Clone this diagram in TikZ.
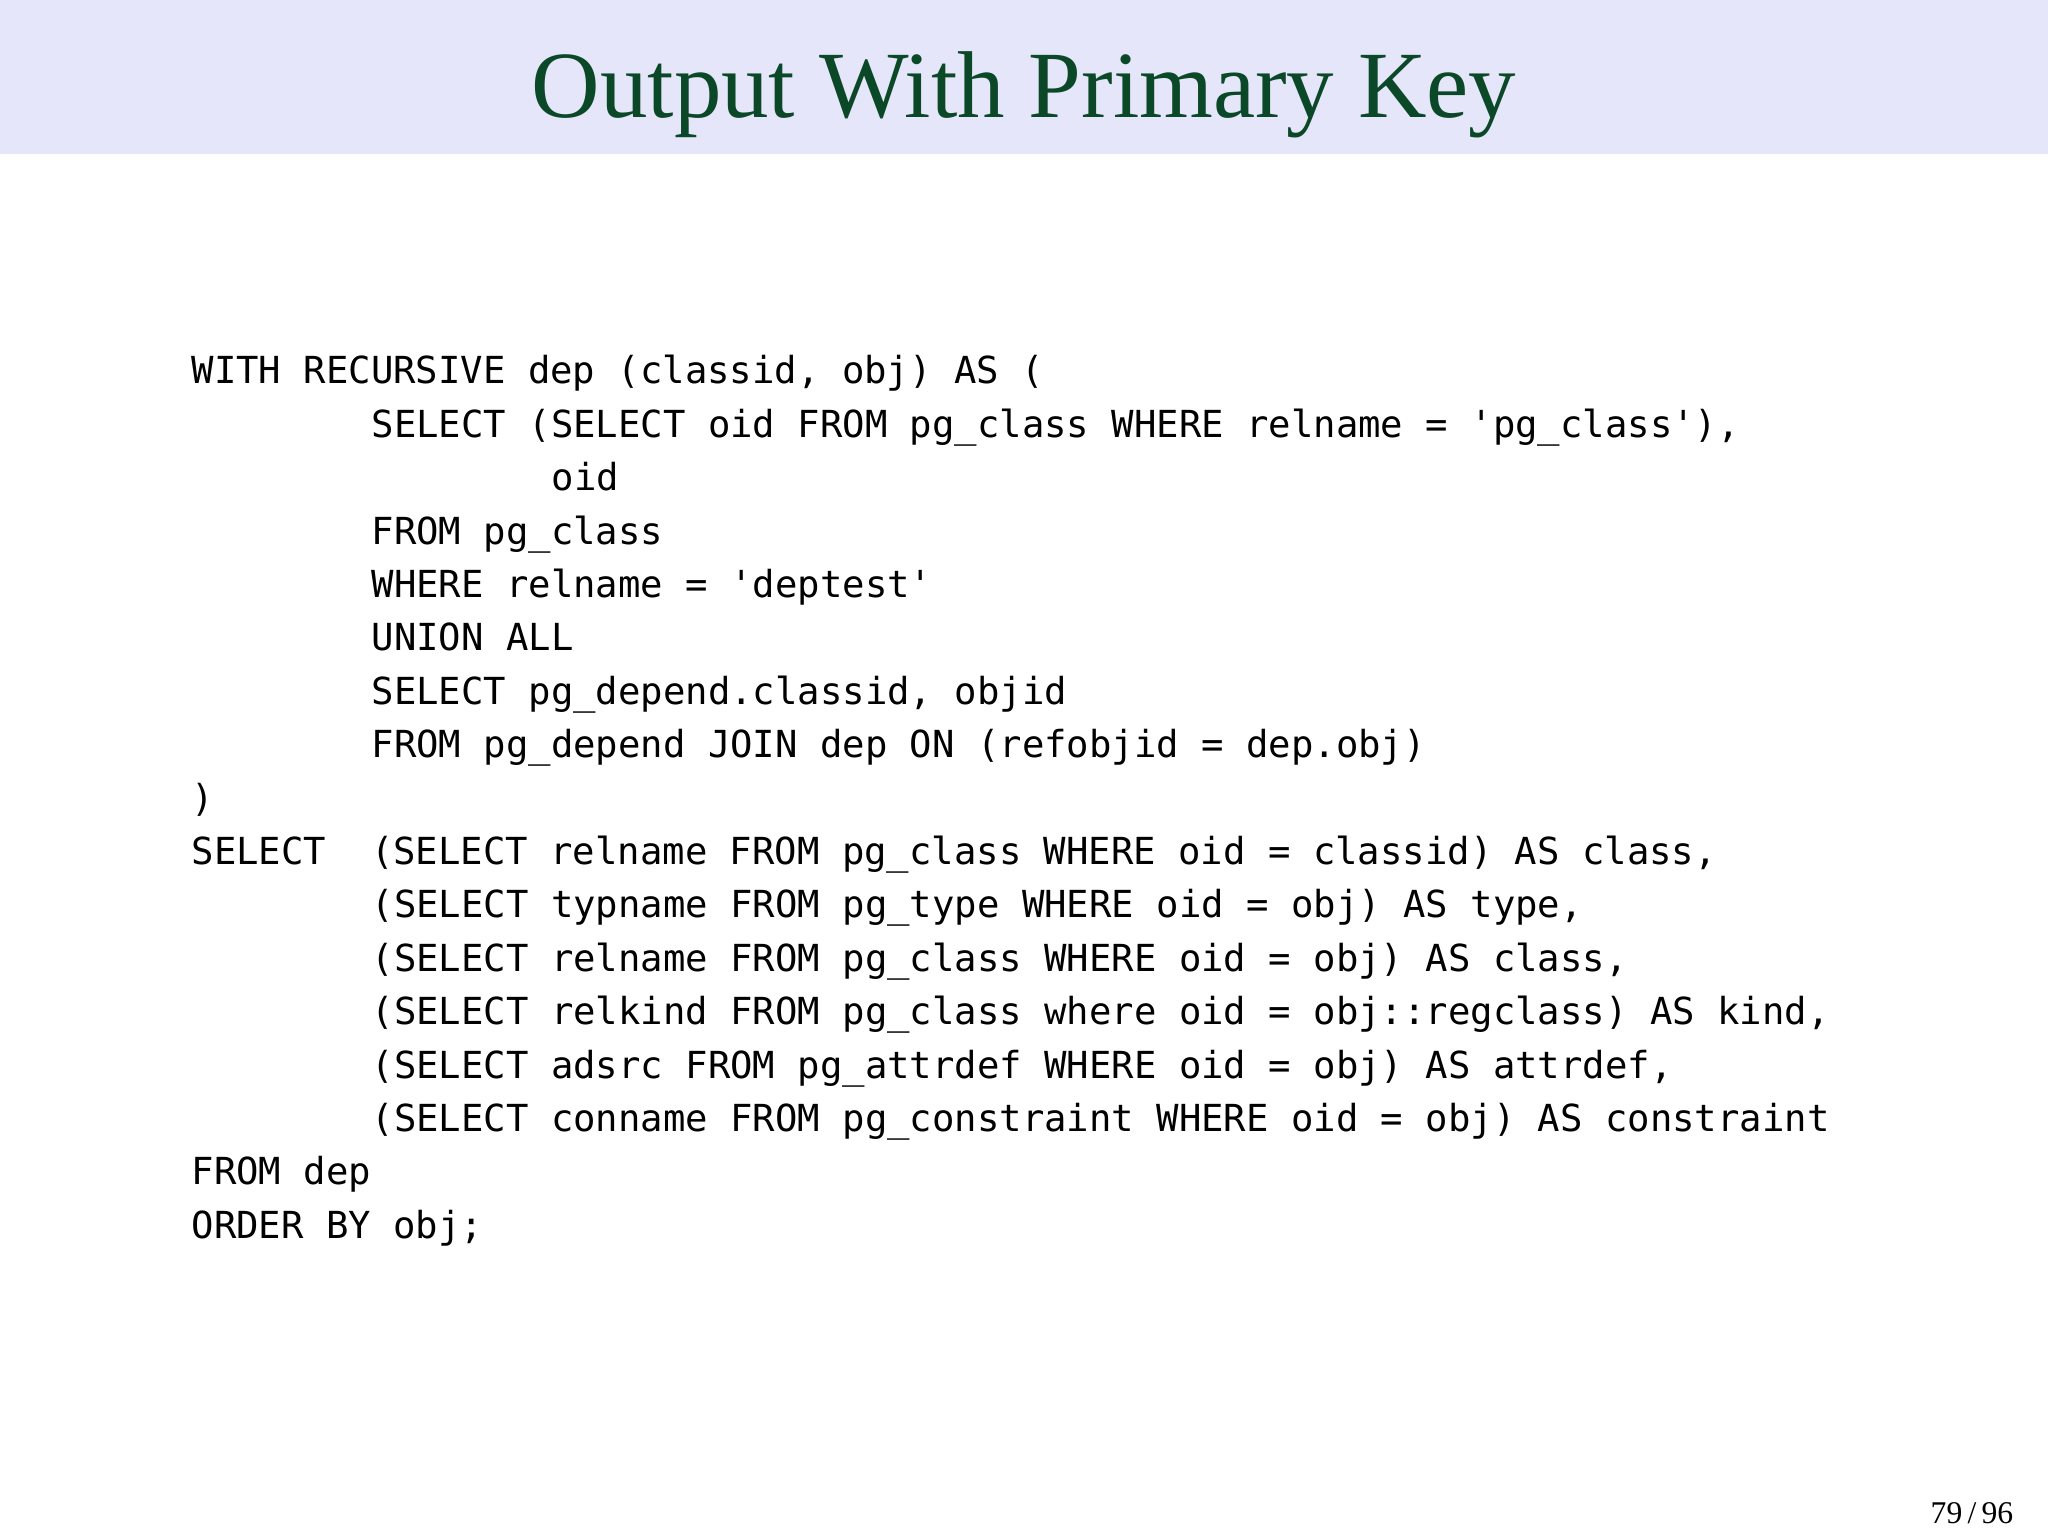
\documentclass[tikz,border=0pt]{standalone}
\usepackage{fontspec}
\setmainfont{Liberation Serif}
\setmonofont{DejaVu Sans Mono}
\definecolor{bandcol}{RGB}{230,230,250}
\definecolor{titlecol}{RGB}{10,72,40}

\begin{document}
\begin{tikzpicture}[
                x=1cm, y=1cm,
                codeline/.style={anchor=base west, inner sep=0pt,
                    font=\fontsize{10.6pt}{12pt}\ttfamily},
            ]
            \useasboundingbox (0,0) rectangle (20.48,-15.36);
            \fill[bandcol] (0,0) rectangle (20.48,-1.54);
            \node[anchor=base, inner sep=0pt, text=titlecol,
                font=\fontsize{27pt}{30pt}\selectfont] (title) at (10.24,-1.18)
                {Output With Primary Key};

            % code lines, one column step = 0.225cm
            \foreach \ind/\row/\txt [count=\i] in {
                0/0/{WITH RECURSIVE dep (classid, obj) AS (},
                8/1/{SELECT (SELECT oid FROM pg\_class WHERE relname = 'pg\_class'),},
                16/2/{oid},
                8/3/{FROM pg\_class},
                8/4/{WHERE relname = 'deptest'},
                8/5/{UNION ALL},
                8/6/{SELECT pg\_depend.classid, objid},
                8/7/{FROM pg\_depend JOIN dep ON (refobjid = dep.obj)},
                0/8/{)},
                0/9/{SELECT~~(SELECT relname FROM pg\_class WHERE oid = classid) AS class,},
                8/10/{(SELECT typname FROM pg\_type WHERE oid = obj) AS type,},
                8/11/{(SELECT relname FROM pg\_class WHERE oid = obj) AS class,},
                8/12/{(SELECT relkind FROM pg\_class where oid = obj::regclass) AS kind,},
                8/13/{(SELECT adsrc FROM pg\_attrdef WHERE oid = obj) AS attrdef,},
                8/14/{(SELECT conname FROM pg\_constraint WHERE oid = obj) AS constraint},
                0/15/{FROM dep},
                0/16/{ORDER BY obj;}}
                \node[codeline] (line\i) at ({1.91+0.225*\ind},{-3.84-0.534*\row}) {\txt};

            \node[anchor=base east, inner sep=0pt, font=\fontsize{9pt}{10pt}\selectfont]
                (pagenum) at (20.14,-15.23) {79\,/\,96};
        \end{tikzpicture}
\end{document}
